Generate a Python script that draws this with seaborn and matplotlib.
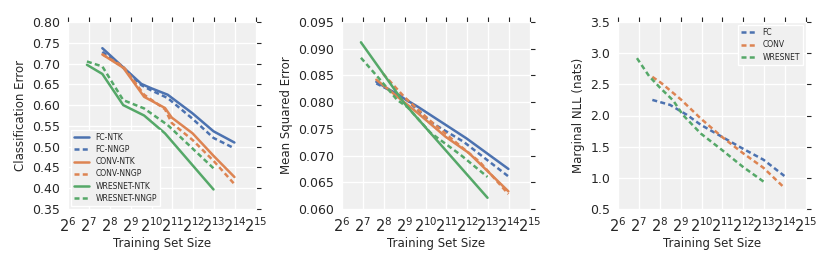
import numpy as np
import pandas as pd
import matplotlib
matplotlib.use("Agg")
import matplotlib.pyplot as plt
import matplotlib.ticker as mticker
import seaborn as sns

# colours (seaborn deep)
blue, orange, green = sns.color_palette("deep")[:3]

# ---- panel 1: classification error ----
fc_ntk_n = [200, 730, 1000, 1750, 4000, 8000, 16000]
fc_ntk_err = [0.737, 0.651, 0.641, 0.625, 0.580, 0.537, 0.510]
fc_nngp_n = [200, 400, 730, 1000, 1750, 4000, 8000, 16000]
fc_nngp_err = [0.728, 0.690, 0.648, 0.636, 0.617, 0.567, 0.521, 0.496]
conv_ntk_n = [200, 400, 800, 1600, 2000, 4000, 8000, 16000]
conv_ntk_err = [0.722, 0.690, 0.620, 0.593, 0.570, 0.532, 0.478, 0.427]
conv_nngp_n = [200, 400, 800, 1600, 2000, 4000, 8000, 16000]
conv_nngp_err = [0.722, 0.693, 0.625, 0.590, 0.557, 0.516, 0.466, 0.410]
wres_ntk_n = [120, 200, 400, 800, 1600, 8000]
wres_ntk_err = [0.697, 0.675, 0.600, 0.575, 0.532, 0.397]
wres_nngp_n = [120, 200, 400, 800, 1750, 8000]
wres_nngp_err = [0.705, 0.693, 0.612, 0.592, 0.552, 0.448]

# ---- panel 2: mean squared error ----
fc_ntk_mse_n = [200, 800, 4000, 16000]
fc_ntk_mse = [0.0838, 0.0791, 0.0732, 0.0675]
fc_nngp_mse_n = [200, 512, 1200, 3600, 16000]
fc_nngp_mse = [0.0835, 0.0808, 0.0763, 0.0726, 0.0661]
conv_ntk_mse_n = [200, 800, 2000, 4300, 16000]
conv_ntk_mse = [0.0842, 0.0779, 0.0735, 0.0705, 0.0633]
conv_nngp_mse_n = [250, 512, 1200, 3100, 6200, 16000]
conv_nngp_mse = [0.0853, 0.0809, 0.0765, 0.0720, 0.0688, 0.0628]
wres_ntk_mse_n = [120, 512, 8000]
wres_ntk_mse = [0.0912, 0.0797, 0.0621]
wres_nngp_mse_n = [120, 220, 400, 570, 1200, 3300, 8000]
wres_nngp_mse = [0.0883, 0.0844, 0.0804, 0.0790, 0.0743, 0.0701, 0.0660]

# ---- panel 3: marginal NLL ----
fc_nll_n = [200, 360, 630, 1000, 2000, 4000, 8000, 16000]
fc_nll = [2.25, 2.17, 2.01, 1.85, 1.66, 1.47, 1.29, 1.03]
conv_nll_n = [200, 270, 512, 1000, 2000, 4000, 8000, 16000]
conv_nll = [2.62, 2.52, 2.26, 1.95, 1.66, 1.40, 1.16, 0.84]
wres_nll_n = [120, 180, 256, 400, 550, 1000, 2000, 4000, 8000]
wres_nll = [2.92, 2.63, 2.45, 2.24, 2.01, 1.71, 1.45, 1.18, 0.94]

sns.set_style("darkgrid", {"axes.facecolor": "#F0F0F0", "grid.color": "white",
                           "axes.edgecolor": "white"})
plt.rcParams['font.family'] = ['DejaVu Sans']

dash = (0, (2.0, 1.3))
lw = 1.8

fig = plt.figure(figsize=(8.31, 2.64), dpi=100)
W, H = 831, 264
ax1 = fig.add_axes([68 / W, 55 / H, 188 / W, 187 / H])
ax2 = fig.add_axes([342 / W, 55 / H, 188 / W, 187 / H])
ax3 = fig.add_axes([618 / W, 55 / H, 188 / W, 187 / H])


def draw(ax, n, v, color, ls, label):
    sns.lineplot(x=n, y=v, ax=ax, color=color, linestyle=ls, linewidth=lw, label=label)


draw(ax1, fc_ntk_n, fc_ntk_err, blue, '-', 'FC-NTK')
draw(ax1, fc_nngp_n, fc_nngp_err, blue, dash, 'FC-NNGP')
draw(ax1, conv_ntk_n, conv_ntk_err, orange, '-', 'CONV-NTK')
draw(ax1, conv_nngp_n, conv_nngp_err, orange, dash, 'CONV-NNGP')
draw(ax1, wres_ntk_n, wres_ntk_err, green, '-', 'WRESNET-NTK')
draw(ax1, wres_nngp_n, wres_nngp_err, green, dash, 'WRESNET-NNGP')

draw(ax2, fc_ntk_mse_n, fc_ntk_mse, blue, '-', None)
draw(ax2, fc_nngp_mse_n, fc_nngp_mse, blue, dash, None)
draw(ax2, conv_ntk_mse_n, conv_ntk_mse, orange, '-', None)
draw(ax2, conv_nngp_mse_n, conv_nngp_mse, orange, dash, None)
draw(ax2, wres_ntk_mse_n, wres_ntk_mse, green, '-', None)
draw(ax2, wres_nngp_mse_n, wres_nngp_mse, green, dash, None)

draw(ax3, fc_nll_n, fc_nll, blue, dash, 'FC')
draw(ax3, conv_nll_n, conv_nll, orange, dash, 'CONV')
draw(ax3, wres_nll_n, wres_nll, green, dash, 'WRESNET')

for ax in (ax1, ax2, ax3):
    ax.set_xscale('log', base=2)
    ax.set_xlim(2 ** 6, 2 ** 15)
    ax.set_xticks([2 ** k for k in range(6, 16)])
    ax.xaxis.set_major_formatter(mticker.LogFormatterMathtext(base=2))
    ax.xaxis.set_minor_locator(mticker.NullLocator())
    ax.tick_params(axis='both', which='major', direction='out', length=3.5, width=0.8,
                   color='#262626', top=True, right=True, pad=2)
    ax.tick_params(axis='x', labelsize=10.5, pad=2)
    ax.tick_params(axis='y', labelsize=9)
    ax.set_xlabel('Training Set Size', fontsize=8.5, labelpad=1)
    ax.grid(True, color='white', linewidth=1)

ax1.set_ylim(0.35, 0.80)
ax1.set_yticks(np.arange(0.35, 0.801, 0.05))
ax1.yaxis.set_major_formatter(mticker.FormatStrFormatter('%.2f'))
ax1.set_ylabel('Classification Error', fontsize=8.5)

ax2.set_ylim(0.060, 0.095)
ax2.set_yticks(np.arange(0.060, 0.0951, 0.005))
ax2.yaxis.set_major_formatter(mticker.FormatStrFormatter('%.3f'))
ax2.set_ylabel('Mean Squared Error', fontsize=8.5)

ax3.set_ylim(0.5, 3.5)
ax3.set_yticks(np.arange(0.5, 3.51, 0.5))
ax3.yaxis.set_major_formatter(mticker.FormatStrFormatter('%.1f'))
ax3.set_ylabel('Marginal NLL (nats)', fontsize=8.5)

leg_kw = dict(fontsize=5.5, handlelength=2.0, handletextpad=0.8, labelspacing=0.42,
              frameon=True, facecolor='#F0F0F0', edgecolor='white', framealpha=1,
              borderaxespad=0.4, fancybox=False)
ax1.legend(loc='lower left', **leg_kw)
ax3.legend(loc='upper right', **leg_kw)

fig.savefig('out.png', dpi=100)
